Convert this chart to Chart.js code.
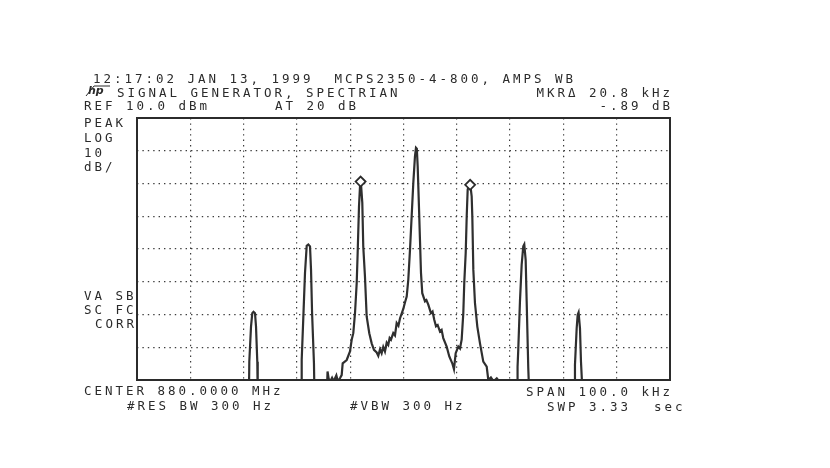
<!DOCTYPE html>
<html>
<head>
<meta charset="utf-8">
<script src="https://cdn.jsdelivr.net/npm/chart.js@4.4.1/dist/chart.umd.min.js"></script>
<style>
  html, body { margin: 0; padding: 0; background: #fff; }
  #wrap { width: 830px; height: 468px; }
</style>
</head>
<body>
<div id="wrap"><canvas id="spec" width="830" height="468"></canvas></div>
<script>
// frequency offset from 880.0000 MHz centre, kHz
const traceKHz = [
  -50,
  -29.0, -28.93, -28.61, -28.37, -28.14, -27.86, -27.67, -27.43, -27.35,
  -19.2, -19.1, -18.8, -18.48, -18.16, -17.86, -17.54, -17.35, -17.15, -16.8, -16.7,
  -14.4, -14.25, -14.05, -13.8, -13.4, -13.1, -12.6, -12.3, -11.9, -11.6,
  -11.41, -10.66, -10.04, -9.72, -9.42, -9.1, -8.78, -8.6, -8.35, -8.16, -8.0, -7.73, -7.55, -7.23, -6.91,
  -6.42, -5.97, -5.54, -5.03, -4.73, -4.4, -4.1, -3.8, -3.48, -3.15, -2.86, -2.6, -2.35, -1.92, -1.6, -1.28, -0.95, -0.66, -0.3, -0.04,
  0.3, 0.6, 0.9, 1.22, 1.53, 1.84, 2.15, 2.34, 2.5, 2.66, 2.9, 3.09, 3.28, 3.52, 4.03, 4.3, 4.65, 5.15, 5.45, 5.77,
  6.1, 6.41, 6.84, 7.15, 7.46, 8.1, 8.59, 9.15, 9.47, 9.79, 10.28, 10.6, 10.91, 11.22, 11.4, 11.67, 11.86, 12.04,
  12.3, 12.55, 12.79, 12.91, 13.1, 13.41, 13.85, 14.35, 14.97, 15.61, 15.91, 16.4, 16.9, 17.5, 18.0, 18.2,
  21.3, 21.4, 21.53, 21.85, 22.17, 22.47, 22.66, 22.92, 23.11, 23.41, 23.6,
  32.1, 32.17, 32.49, 32.68, 32.85, 33.11, 33.3, 33.62,
  50
];
// level, dBm
const traceDBm = [
  -75,
  -75, -64.4, -53.7, -49.6, -49.2, -49.6, -53.7, -64.4, -75,
  -75, -63.9, -51.1, -37.3, -29.0, -28.6, -29.2, -36.3, -49.6, -64.9, -75,
  -75, -67.4, -69.5, -70.6, -69.3, -70.4, -68.6, -70.5, -69.4, -68.5,
  -64.9, -63.9, -61.3, -57.7, -55.7, -49.6, -40.4, -31.2, -17, -10.9, -9.6, -15.9, -29.2, -38.4, -50.6,
  -55.7, -58.8, -60.8, -61.6, -62.6, -60.6, -61.8, -59.9, -61.3, -58.6, -59.3, -57.2, -57.7, -55.7, -56.4, -52.6, -53.4, -51.2, -49.5, -48.3,
  -46.2, -44.5, -39.4, -30.2, -20, -9.8, -1.7, 0.9, 0.6, -4.7, -17, -27.2, -37.3, -43.5, -46, -45.6, -47, -49.6, -49.1, -51.6,
  -53.6, -53.2, -55.2, -54.7, -57.2, -59.8, -62.8, -64.9, -66.7, -61.8, -59.8, -60.4, -57.7, -49.6, -40.4, -31.2, -20, -11.9,
  -10.3, -10.6, -13.9, -20, -36.3, -46.5, -53.7, -58.8, -64.4, -65.9, -70, -69.2, -70.4, -69.5, -70.5, -75,
  -75, -66, -60.8, -46, -34.8, -29.2, -28.6, -33.3, -46, -66.4, -75,
  -75, -65.4, -54.2, -50.1, -49.4, -54.2, -64.4, -75,
  -75
];

// delta marker pair
const markerKHz = [-8.05, 12.5];
const markerDBm = [-9.4, -10.4];

// screen annotations
const refLevel = 10;     // dBm, top graticule
const dbPerDiv = 10;
const spanKHz = 100;
const headerLines = [
  { text: '12:17:02 JAN 13, 1999  MCPS2350-4-800, AMPS WB', x: 93, y: 73 },
  { text: 'SIGNAL GENERATOR, SPECTRIAN', x: 117, y: 87 },
  { text: 'MKR\u0394 20.8 kHz', right: 670, y: 87 },
  { text: 'REF 10.0 dBm', x: 84, y: 100 },
  { text: 'AT 20 dB', x: 275, y: 100 },
  { text: '-.89 dB', right: 670, y: 100 },
  { text: 'PEAK', x: 84, y: 117 },
  { text: 'LOG', x: 84, y: 132 },
  { text: '10', x: 84, y: 147 },
  { text: 'dB/', x: 84, y: 161 },
  { text: 'VA SB', x: 84, y: 290 },
  { text: 'SC FC', x: 84, y: 304 },
  { text: 'CORR', x: 95, y: 318 },
  { text: 'CENTER 880.0000 MHz', x: 84, y: 385 },
  { text: 'SPAN 100.0 kHz', right: 670, y: 386 },
  { text: '#RES BW 300 Hz', x: 127, y: 400 },
  { text: '#VBW 300 Hz', x: 350, y: 400 },
  { text: 'SWP 3.33', x: 547, y: 401 },
  { text: 'sec', x: 654, y: 401 }
];

const PITCH = 10.5;
const INK = '#2b2b2b';

const drawMono = (ctx, item) => {
  const n = item.text.length;
  let x0 = item.x;
  if (item.right !== undefined) x0 = item.right - (n - 1) * PITCH - 7.5;
  for (let i = 0; i < n; i++) {
    ctx.fillText(item.text[i], x0 + i * PITCH, item.y);
  }
}

const screenText = {
  id: 'screenText',
  afterDraw(chart) {
    const ctx = chart.ctx;
    const a = chart.chartArea;
    ctx.save();
    // graticule frame
    ctx.strokeStyle = INK;
    ctx.lineWidth = 2;
    ctx.strokeRect(a.left, a.top, a.right - a.left, a.bottom - a.top);

    ctx.fillStyle = INK;
    ctx.font = '12.5px "DejaVu Sans Mono", monospace';
    ctx.textBaseline = 'top';
    for (const item of headerLines) drawMono(ctx, item);

    // little hp-style logo in front of line 2
    ctx.font = 'italic bold 11px "DejaVu Sans", sans-serif';
    ctx.fillText('hp', 88, 86);
    ctx.lineWidth = 1;
    ctx.beginPath();
    ctx.moveTo(86, 96);
    ctx.lineTo(94, 86);
    ctx.lineTo(110, 86);
    ctx.stroke();
    ctx.restore();
  }
}

const createSpectrumChart = () => {
  const trace = traceKHz.map((f, i) => ({ x: f, y: traceDBm[i] }));
  const markers = markerKHz.map((f, i) => ({ x: f, y: markerDBm[i] }));

  const gridOpts = {
    display: true,
    color: '#3c3c3c',
    lineWidth: 1.2,
    drawTicks: false
  };

  let ctx = document.getElementById('spec');
  let spectrumChart = new Chart(ctx, {
    type: 'scatter',
    data: {
      datasets: [{
        label: 'markers',
        data: markers,
        pointStyle: 'rectRot',
        pointRadius: 5,
        pointBorderWidth: 1.8,
        pointBorderColor: INK,
        pointBackgroundColor: '#fff',
        showLine: false,
        order: 0
      }, {
        label: 'trace',
        data: trace,
        showLine: true,
        borderColor: '#2f2f2f',
        borderWidth: 2.2,
        pointRadius: 0,
        tension: 0,
        order: 1
      }]
    },
    options: {
      responsive: false,
      animation: false,
      events: [],
      layout: { padding: { left: 137, right: 160, top: 118, bottom: 88 } },
      plugins: { legend: { display: false }, tooltip: { enabled: false } },
      scales: {
        x: {
          type: 'linear',
          min: -spanKHz / 2,
          max: spanKHz / 2,
          ticks: { display: false, stepSize: spanKHz / 10 },
          grid: gridOpts,
          border: { display: false, dash: [1.4, 4] }
        },
        y: {
          type: 'linear',
          min: refLevel - 8 * dbPerDiv,
          max: refLevel,
          ticks: { display: false, stepSize: dbPerDiv },
          grid: gridOpts,
          border: { display: false, dash: [1.4, 4] }
        }
      }
    },
    plugins: [screenText]
  })
}

createSpectrumChart()
</script>
</body>
</html>
